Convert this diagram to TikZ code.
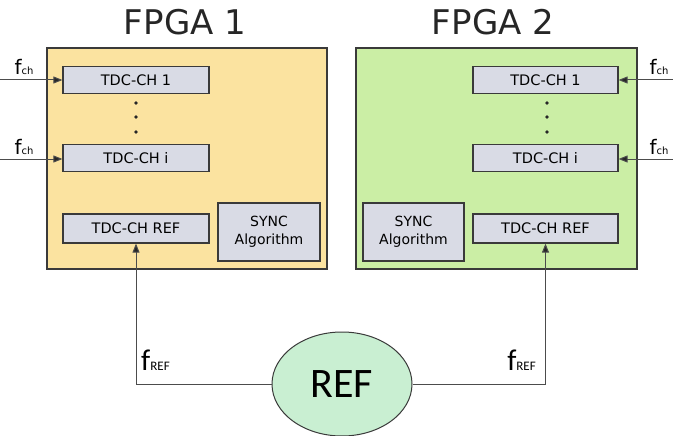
\documentclass[tikz,border=0pt]{standalone}
\usepackage{fontspec}
\setmainfont{DejaVu Sans}
\newfontfamily\calib{Carlito}
\usetikzlibrary{arrows.meta,shapes.geometric}
\definecolor{fpgaone}{HTML}{FBE3A0}
\definecolor{fpgatwo}{HTML}{CBEEA5}
\definecolor{tdcgray}{HTML}{D9DBE5}
\definecolor{refgreen}{HTML}{C9EFD2}
\definecolor{edge}{HTML}{3A3A3A}
\begin{document}
\begin{tikzpicture}[x=1pt,y=-1pt,
  fpga/.style={draw=edge,line width=1.4pt,minimum width=280pt,minimum height=221pt,inner sep=0pt},
  tdcbox/.style={draw=edge,line width=1.2pt,fill=tdcgray,minimum width=146pt,minimum height=27pt,inner sep=0pt,font=\fontsize{14.5}{16}\selectfont},
  syncbox/.style={draw=edge,line width=1.2pt,fill=tdcgray,minimum width=102pt,minimum height=58pt,inner sep=0pt,align=center,font=\fontsize{14}{18}\selectfont},
  title/.style={font=\fontsize{34}{40}\selectfont,text=black!85},
  fch/.style={inner sep=0pt,anchor=base},
  conn/.style={draw=black!70,line width=1pt},
  arr/.style={conn,-{Triangle[length=9pt,width=7pt,fill=black!85]}},
  dotc/.style={fill=black!85,draw=none}]
\useasboundingbox (0,0) rectangle (673,436);
% FPGA frames
\node[fpga,fill=fpgaone] (f1) at (187,158.5) {};
\node[fpga,fill=fpgatwo,minimum width=281pt] (f2) at (496.5,158.5) {};
\node[title] (t1) at (185,22) {FPGA 1};
\node[title] (t2) at (493,22) {FPGA 2};
% FPGA 1 contents
\node[tdcbox] (a1) at (136,80) {TDC-CH 1};
\node[tdcbox] (ai) at (136,158) {TDC-CH i};
\node[tdcbox,minimum height=29pt] (aref) at (136,228.5) {TDC-CH REF};
\node[syncbox] (as) at (269,232) {SYNC\\Algorithm};
\fill[dotc] (136,103) circle (1.9pt) (136,117) circle (1.9pt) (136,132) circle (1.9pt);
% FPGA 2 contents
\node[tdcbox,minimum width=145pt] (b1) at (545.5,80) {TDC-CH 1};
\node[tdcbox,minimum width=145pt] (bi) at (545.5,158) {TDC-CH i};
\node[tdcbox,minimum width=145pt,minimum height=29pt] (bref) at (545.5,228.5) {TDC-CH REF};
\node[syncbox,minimum width=101pt] (bs) at (413.5,232) {SYNC\\Algorithm};
\fill[dotc] (547,103) circle (1.9pt) (547,117) circle (1.9pt) (547,132) circle (1.9pt);
% channel inputs
\coordinate (la1) at (0,80);
\coordinate (lai) at (0,159);
\coordinate (rb1) at (673,80);
\coordinate (rbi) at (673,159);
\draw[arr] (la1) -- (a1.west |- la1);
\draw[arr] (lai) -- (ai.west |- lai);
\draw[arr] (rb1) -- (b1.east |- rb1);
\draw[arr] (rbi) -- (bi.east |- rbi);
\node[fch] (lfa) at (24,75) {\fontsize{20}{20}\selectfont f\fontsize{10}{10}\selectfont ch};
\node[fch] (lfb) at (24,154) {\fontsize{20}{20}\selectfont f\fontsize{10}{10}\selectfont ch};
\node[fch] (rfa) at (659,75) {\fontsize{20}{20}\selectfont f\fontsize{10}{10}\selectfont ch};
\node[fch] (rfb) at (659,154) {\fontsize{20}{20}\selectfont f\fontsize{10}{10}\selectfont ch};
% reference
\node[ellipse,draw=edge,line width=1pt,fill=refgreen,minimum width=140pt,minimum height=104pt,inner sep=0pt,font=\calib\fontsize{42}{42}\selectfont] (ref) at (342,384) {REF};
\draw[arr] (ref.west) -| (aref.south);
\draw[arr] (ref.east) -| (bref.south);
\node[inner sep=0pt,anchor=base west] (lfr) at (141,370) {\calib\fontsize{30}{30}\selectfont f\fontsize{13}{13}\selectfont REF};
\node[inner sep=0pt,anchor=base east] (rfr) at (536,370) {\calib\fontsize{30}{30}\selectfont f\fontsize{13}{13}\selectfont REF};
\end{tikzpicture}
\end{document}
